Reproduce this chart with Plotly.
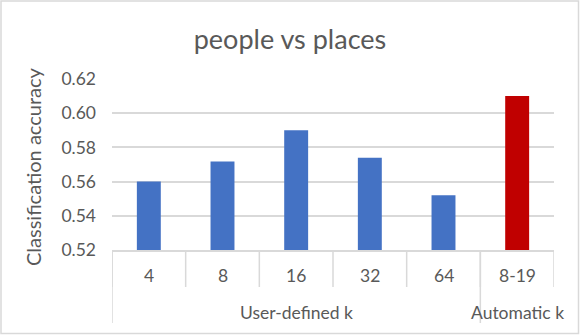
import plotly.graph_objects as go

# data
categories = ["4", "8", "16", "32", "64", "8-19"]
accuracy = [0.560, 0.5717, 0.590, 0.574, 0.552, 0.610]
bar_colors = ["#4472C4"] * 5 + ["#C00000"]
groups = ["User-defined k", "Automatic k"]
group_sizes = [5, 1]

W, H = 581, 335
L, R, T, B = 112, 554, 79, 250  # plot area in pixels
GRAY = "#595959"
LINE = "#d9d9d9"
FONT = "Lato"


def px_x(x):
    return (x - L) / (R - L)


def px_y(y):
    return (B - y) / (B - T)


fig = go.Figure(
    go.Bar(
        x=list(range(len(categories))),
        y=accuracy,
        marker=dict(color=bar_colors, line=dict(width=0)),
        width=0.325,
        showlegend=False,
        hoverinfo="skip",
    )
)

shapes = []
annotations = []

# inner level dividers and labels
for i, cat in enumerate(categories):
    annotations.append(dict(
        x=i, y=px_y(275), xref="x", yref="paper", text=cat, showarrow=False,
        font=dict(size=17.5, color=GRAY, family=FONT), yanchor="middle",
    ))
for i in range(len(categories) + 1):
    shapes.append(dict(
        type="line", xref="x", yref="paper", x0=i - 0.5, x1=i - 0.5,
        y0=0, y1=px_y(287), line=dict(color=LINE, width=1.5),
    ))

# outer level dividers and labels
start = 0
for g, n in zip(groups, group_sizes):
    annotations.append(dict(
        x=start + (n - 1) / 2, y=px_y(312), xref="x", yref="paper", text=g,
        showarrow=False, font=dict(size=17.5, color=GRAY, family=FONT),
        yanchor="middle",
    ))
    shapes.append(dict(
        type="line", xref="x", yref="paper", x0=start - 0.5, x1=start - 0.5,
        y0=0, y1=px_y(323), line=dict(color=LINE, width=1.5),
    ))
    start += n

# chart border
shapes.append(dict(
    type="rect", xref="paper", yref="paper",
    x0=px_x(1), x1=px_x(578.5), y0=px_y(333.5), y1=px_y(1),
    line=dict(color=LINE, width=1.5), layer="below",
))

# y axis title
annotations.append(dict(
    x=px_x(33), y=px_y(167), xref="paper", yref="paper",
    xanchor="center", yanchor="middle",
    text="Classification accuracy", textangle=-90, showarrow=False,
    font=dict(size=20, color=GRAY, family=FONT),
))

fig.update_layout(
    width=W, height=H,
    margin=dict(l=L, r=W - R, t=T, b=H - B, pad=0),
    paper_bgcolor="white", plot_bgcolor="white",
    title=dict(
        text="people vs places", x=px_x(290), xref="paper", xanchor="center",
        y=1 - 40 / H, yanchor="middle", yref="container",
        font=dict(size=27, color=GRAY, family=FONT),
    ),
    shapes=shapes,
    annotations=annotations,
    xaxis=dict(
        range=[-0.5, len(categories) - 0.5], showticklabels=False,
        showgrid=False, zeroline=False, showline=True,
        linecolor=LINE, linewidth=1.5, fixedrange=True,
    ),
    yaxis=dict(
        range=[0.52, 0.62], dtick=0.02, tickformat=".2f",
        showgrid=True, gridcolor=LINE, gridwidth=1.5,
        zeroline=False, showline=False, ticks="",
        ticklabelstandoff=15, fixedrange=True,
        tickfont=dict(size=17.5, color=GRAY, family=FONT),
    ),
)

# the page puts the figure at its top left corner, no body margin
fig.write_html(
    "out.html",
    config={"displayModeBar": False},
    post_script="document.body.style.margin = '0';",
)
